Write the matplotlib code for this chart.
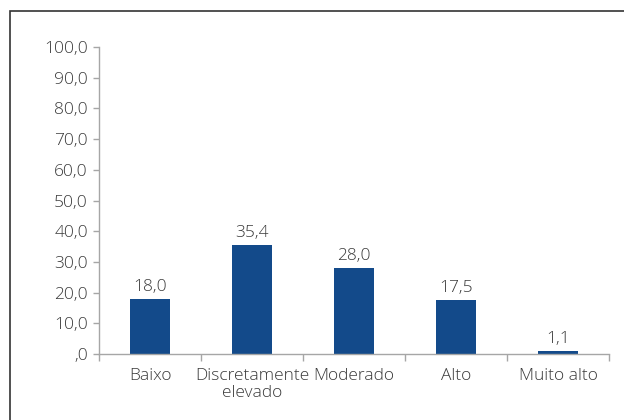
import matplotlib.pyplot as plt
from matplotlib.patches import Rectangle
from matplotlib.ticker import FuncFormatter, FixedLocator

categories = ["Baixo", "Discretamente\nelevado", "Moderado", "Alto", "Muito alto"]
values = [18.0, 35.4, 28.0, 17.5, 1.1]

BAR = "#134a8a"
TEXT = "#3a3a3a"
AXIS = "#a6a6a6"

plt.rcParams["font.family"] = ["Open Sans", "DejaVu Sans"]
plt.rcParams["font.weight"] = "light"

FS = 12.5

fig = plt.figure(figsize=(6.24, 4.2), dpi=100)
ax = fig.add_axes([0.1587, 0.157, 0.8173, 0.731])

x = list(range(len(categories)))
ax.bar(x, values, width=0.39, color=BAR, zorder=2)

for xi, v in zip(x, values):
    ax.annotate(f"{v:.1f}".replace(".", ","), (xi, v), xytext=(0, 3),
                textcoords="offset points", ha="center", va="bottom",
                fontsize=FS, color=TEXT)

ax.set_xlim(-0.5, len(categories) - 0.5)
ax.set_ylim(0, 100)
ax.set_yticks(range(0, 101, 10))
ax.yaxis.set_major_formatter(FuncFormatter(
    lambda v, p: ",0" if v == 0 else f"{v:.1f}".replace(".", ",")))

ax.set_xticks(x)
ax.set_xticklabels(categories, linespacing=1.05)
ax.xaxis.set_minor_locator(FixedLocator([i - 0.5 for i in range(len(categories) + 1)]))
ax.tick_params(axis="x", which="major", length=0, pad=10, labelsize=FS, labelcolor=TEXT)
ax.tick_params(axis="x", which="minor", length=5, color=AXIS, width=1)
ax.tick_params(axis="y", length=4, color=AXIS, width=1, labelsize=FS, labelcolor=TEXT, pad=4)

for s in ["top", "right"]:
    ax.spines[s].set_visible(False)
for s in ["left", "bottom"]:
    ax.spines[s].set_color(AXIS)
    ax.spines[s].set_linewidth(1)

# outer frame, cut off at right and bottom like the source
fig.patches.append(Rectangle((9.5 / 624, -0.05), 1.1, 1 - 10.5 / 420 + 0.05,
                             transform=fig.transFigure, fill=False,
                             edgecolor="#333333", linewidth=1.2))

fig.savefig("out.png", dpi=100)
